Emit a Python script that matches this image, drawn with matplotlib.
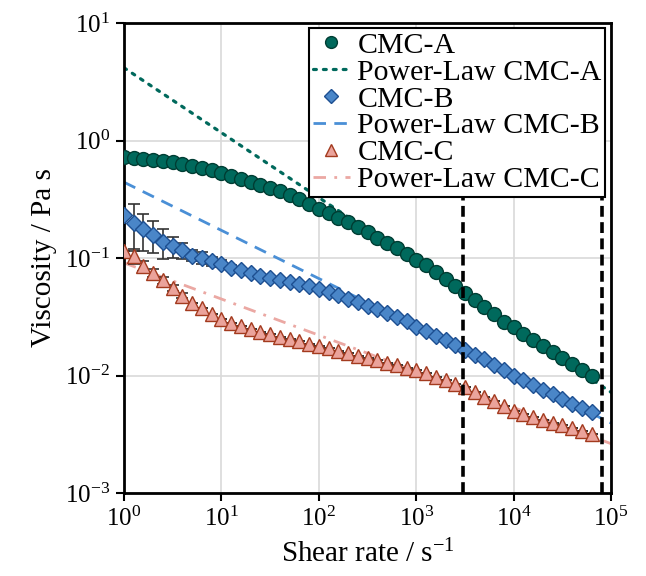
import matplotlib.pyplot as plt
from matplotlib.ticker import FixedLocator, FixedFormatter

plt.rcParams['font.family'] = ['Liberation Serif', 'DejaVu Serif']
plt.rcParams['mathtext.fontset'] = 'custom'
plt.rcParams['mathtext.rm'] = 'Liberation Serif'
plt.rcParams['mathtext.it'] = 'Liberation Serif:italic'

# Velocidad de cizalla (s^-1), puntos de medida
shear_rate = [1.00, 1.26, 1.58, 2.00, 2.51, 3.16, 3.98, 5.01, 6.31, 7.94,
              10.0, 12.6, 15.8, 20.0, 25.1, 31.6, 39.8, 50.1, 63.1, 79.4,
              100, 126, 158, 200, 251, 316, 398, 501, 631, 794,
              1000, 1260, 1580, 2000, 2510, 3160, 3980, 5010, 6310, 7940,
              10000, 12600, 15800, 20000, 25100, 31600, 39800, 50100, 63100]

# Viscosidad (Pa s) de cada muestra
visc_a = [0.726, 0.714, 0.701, 0.687, 0.671, 0.653, 0.634, 0.612, 0.589, 0.562,
          0.531, 0.501, 0.473, 0.445, 0.418, 0.394, 0.370, 0.345, 0.316, 0.288,
          0.264, 0.243, 0.221, 0.201, 0.182, 0.165, 0.149, 0.134, 0.121, 0.108,
          0.0970, 0.0867, 0.0759, 0.0661, 0.0575, 0.0501, 0.0437, 0.0380, 0.0331, 0.0288,
          0.0257, 0.0226, 0.0200, 0.0178, 0.0158, 0.0141, 0.0126, 0.0112, 0.0100]
visc_b = [0.234, 0.200, 0.175, 0.158, 0.138, 0.126, 0.116, 0.105, 0.101, 0.0940,
          0.0897, 0.0826, 0.0787, 0.0748, 0.0710, 0.0678, 0.0656, 0.0627, 0.0603, 0.0575,
          0.0540, 0.0512, 0.0482, 0.0450, 0.0421, 0.0389, 0.0365, 0.0341, 0.0313, 0.0290,
          0.0259, 0.0238, 0.0219, 0.0200, 0.0182, 0.0166, 0.0151, 0.0138, 0.0123, 0.0111,
          0.0100, 0.00912, 0.00832, 0.00759, 0.00692, 0.00631, 0.00575, 0.00531, 0.00490]
visc_c = [0.114, 0.104, 0.0863, 0.0748, 0.0646, 0.0557, 0.0480, 0.0417, 0.0376, 0.0331,
          0.0302, 0.0279, 0.0263, 0.0248, 0.0234, 0.0224, 0.0214, 0.0204, 0.0195, 0.0186,
          0.0178, 0.0170, 0.0162, 0.0155, 0.0148, 0.0141, 0.0135, 0.0129, 0.0123, 0.0117,
          0.0112, 0.0105, 0.00977, 0.00912, 0.00851, 0.00794, 0.00724, 0.00661, 0.00603, 0.00550,
          0.00501, 0.00468, 0.00442, 0.00417, 0.00398, 0.00380, 0.00355, 0.00335, 0.00316]

# Desviación estándar (solo visible a baja cizalla)
err_b = [0, 0.086, 0.060, 0.048, 0.040, 0.025, 0.018, 0.011, 0.012, 0.008,
         0.006, 0.004] + [0] * 37
err_c = [0, 0.015, 0.009, 0.006, 0.004, 0.003, 0.002] + [0] * 42

# Ajustes Power-Law (extremos de la recta en log-log)
pl_x = [1, 1e5]
pl_a = [4.16, 0.0072]
pl_b = [0.442, 0.00394]
pl_c = [0.091, 0.00263]

# Límites de la zona de trabajo
limits = [3000, 80000]

fig = plt.figure(figsize=(6.46, 5.76), dpi=100)
ax = fig.add_axes([0.192, 0.144, 0.754, 0.816])

ax.plot(pl_x, pl_a, color='#00695c', lw=2.3, linestyle=(0, (0.9, 2.2)),
        dash_capstyle='round', label='Power-Law CMC-A', zorder=2)
ax.plot(pl_x, pl_b, color='#4a8fd6', lw=2.0, linestyle=(0, (4.5, 3)),
        label='Power-Law CMC-B', zorder=2)
ax.plot(pl_x, pl_c, color='#eba8a3', lw=2.0, linestyle=(0, (4.5, 3, 1, 3)),
        label='Power-Law CMC-C', zorder=2)

ax.errorbar(shear_rate, visc_b, yerr=err_b, fmt='none', ecolor='#333333',
            elinewidth=1.2, capsize=4.5, capthick=1.2, zorder=3)
ax.errorbar(shear_rate, visc_c, yerr=err_c, fmt='none', ecolor='#333333',
            elinewidth=1.2, capsize=4.5, capthick=1.2, zorder=3)

ax.plot(shear_rate, visc_a, 'o', ms=10, mfc='#00695c', mec='#003d33', mew=1.0,
        label='CMC-A', zorder=4)
ax.plot(shear_rate, visc_b, 'D', ms=8.2, mfc='#4a86c8', mec='#1d4f91', mew=1.0,
        label='CMC-B', zorder=4)
ax.plot(shear_rate, visc_c, '^', ms=10, mfc='#eba39b', mec='#a33a1e', mew=1.0,
        label='CMC-C', zorder=4)

for xv in limits:
    ax.axvline(xv, color='black', lw=2.6, linestyle=(0, (3, 1.5)), zorder=5)

ax.set_xscale('log')
ax.set_yscale('log')
ax.set_xlim(1, 1e5)
ax.set_ylim(1e-3, 10)

xt = [1, 10, 100, 1000, 1e4, 1e5]
yt = [1e-3, 1e-2, 1e-1, 1, 10]
ax.xaxis.set_major_locator(FixedLocator(xt))
ax.xaxis.set_major_formatter(FixedFormatter([r'$10^{%d}$' % i for i in range(6)]))
ax.yaxis.set_major_locator(FixedLocator(yt))
ax.yaxis.set_major_formatter(FixedFormatter([r'$10^{%d}$' % i for i in range(-3, 2)]))
ax.minorticks_off()
ax.tick_params(axis='both', which='major', direction='out', length=6, width=1.5,
               labelsize=18, pad=4)

ax.grid(True, color='#d9d9d9', lw=1.2, zorder=0)
ax.set_axisbelow(True)
for sp in ax.spines.values():
    sp.set_linewidth(2)

ax.set_xlabel(r'Shear rate / s$^{-1}$', fontsize=21, labelpad=6)
ax.set_ylabel('Viscosity / Pa s', fontsize=21, labelpad=6)

# Orden de la leyenda: datos y ajuste de cada muestra
h, l = ax.get_legend_handles_labels()
order = ['CMC-A', 'Power-Law CMC-A', 'CMC-B', 'Power-Law CMC-B', 'CMC-C', 'Power-Law CMC-C']
hs = [h[l.index(o)] for o in order]
leg = ax.legend(hs, order, loc='upper right', bbox_to_anchor=(0.988, 0.989),
                borderaxespad=0, fontsize=21.5, labelspacing=0.0, handlelength=1.25,
                handletextpad=0.25, borderpad=0.12, fancybox=False, framealpha=1,
                edgecolor='black', markerscale=0.85)
leg.get_frame().set_linewidth(1.5)
leg.set_zorder(10)

plt.savefig('out.png', dpi=100)
